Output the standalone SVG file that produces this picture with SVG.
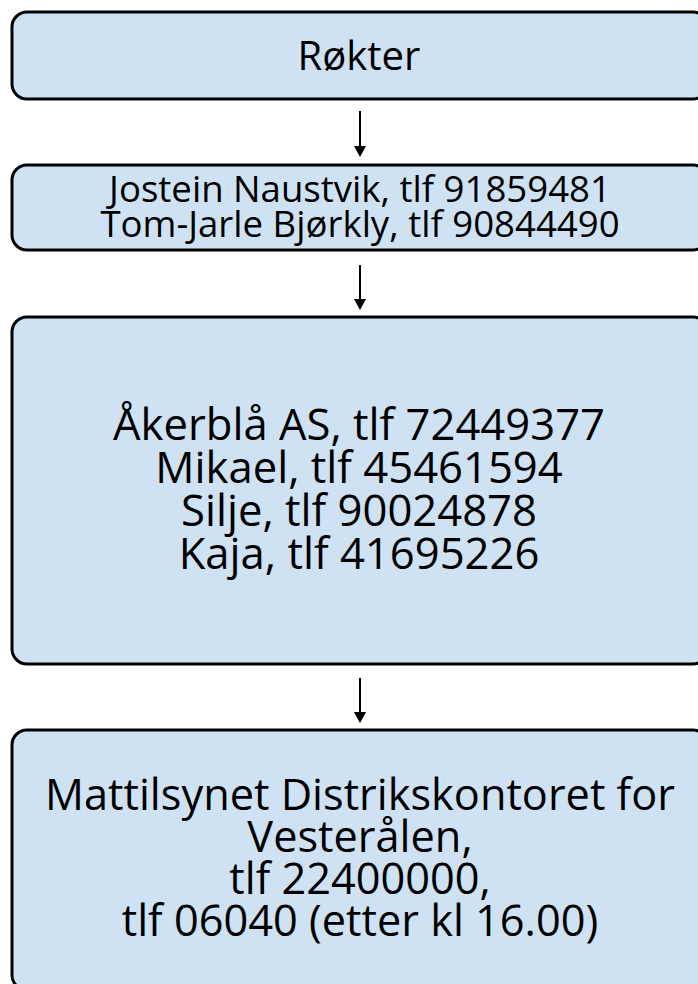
<svg xmlns="http://www.w3.org/2000/svg" width="698" height="984" viewBox="0 0 698 984">
<defs>
<style>
.box{fill:#cfe2f3;stroke:#000;stroke-width:3}
.t{font-family:"Open Sans","Noto Sans",sans-serif;fill:#000;text-anchor:middle}
.c{stroke:#000;stroke-width:2;fill:none}
</style>
</defs>
<rect width="698" height="984" fill="#fff"/>
<g id="n1"><rect class="box" x="12" y="12" width="696" height="87" rx="15"/>
<text class="t" x="359" y="70" font-size="40">Røkter</text></g>
<g id="n2"><rect class="box" x="12" y="165" width="696" height="85" rx="15"/>
<text class="t" x="360" y="202" font-size="36.6">Jostein Naustvik, tlf 91859481</text>
<text class="t" x="360" y="237" font-size="36.6">Tom-Jarle Bjørkly, tlf 90844490</text></g>
<g id="n3"><rect class="box" x="12" y="317" width="696" height="347" rx="15"/>
<text class="t" x="359" y="440" font-size="43.6">Åkerblå AS, tlf 72449377</text>
<text class="t" x="359" y="483" font-size="43.6">Mikael, tlf 45461594</text>
<text class="t" x="359" y="526" font-size="43.6">Silje, tlf 90024878</text>
<text class="t" x="359" y="569" font-size="43.6">Kaja, tlf 41695226</text></g>
<g id="n4"><rect class="box" x="12" y="730" width="696" height="260" rx="15"/>
<text class="t" x="360" y="810" font-size="43.3">Mattilsynet Distrikskontoret for</text>
<text class="t" x="360" y="852" font-size="43.3">Vesterålen,</text>
<text class="t" x="360" y="894" font-size="43.3">tlf 22400000,</text>
<text class="t" x="360" y="936" font-size="43.3">tlf 06040 (etter kl 16.00)</text></g>
<g id="connectors">
<line class="c" x1="360" y1="111" x2="360" y2="147"/><path d="M354,146 L366,146 L360,157 Z"/>
<line class="c" x1="360" y1="265" x2="360" y2="300"/><path d="M354,299 L366,299 L360,310 Z"/>
<line class="c" x1="360" y1="678" x2="360" y2="713"/><path d="M354,712 L366,712 L360,723 Z"/>
</g>
</svg>
